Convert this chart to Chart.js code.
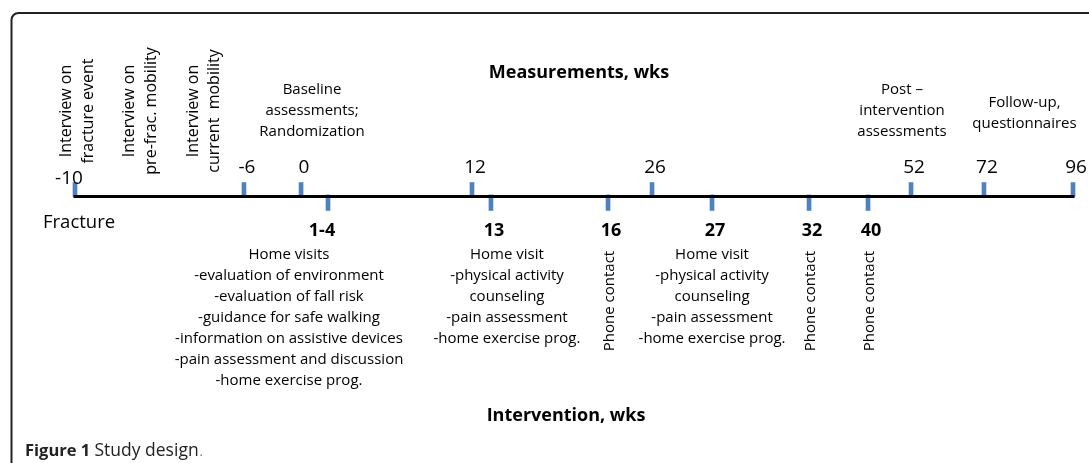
<!DOCTYPE html>
<html>
<head>
<meta charset="utf-8">
<script src="https://cdn.jsdelivr.net/npm/chart.js@4.4.1/dist/chart.umd.min.js"></script>
<style>
  html, body { margin: 0; padding: 0; background: #fff; }
  #wrap { width: 1089px; height: 463px; position: relative; }
</style>
</head>
<body>
<div id="wrap"><canvas id="timeline"></canvas></div>
<script>
// --- DATA ---
const measureWeeks = [-10, -6, 0, 12, 26, 52, 72, 96];
const measureLabels = ['-10', '-6', '0', '12', '26', '52', '72', '96'];
const interventionWeeks = [2.5, 13, 16, 27, 32, 40];
const interventionLabels = ['1-4', '13', '16', '27', '32', '40'];

const preFractureNotes = [
    ['Interview on', 'fracture event'],
    ['Interview on', 'pre-frac. mobility'],
    ['Interview on', 'current  mobility']
];
const baselineNote = ['Baseline', 'assessments;', 'Randomization'];
const postNote = ['Post \u2013', 'intervention', 'assessments'];
const followUpNote = ['Follow-up,', 'questionnaires'];

const homeVisitWeeks = [2.5, 13, 27];
const homeVisitNotes = [
    ['Home visits', '-evaluation of environment', '-evaluation of fall risk', '-guidance for safe walking',
     '-information on assistive devices', '-pain assessment and discussion', '-home exercise prog.'],
    ['Home visit', '-physical activity', 'counseling', '-pain assessment', '-home exercise prog.'],
    ['Home visit', '-physical activity', 'counseling', '-pain assessment', '-home exercise prog.']
];
const phoneWeeks = [16, 32, 40];
const phoneNote = 'Phone contact';

// --- LAYOUT ---
// the figure is schematic, not to scale: week -> share of axis length
const axisStops = [
    [-10, 0], [-6, 0.1693], [0, 0.2265], [2.5, 0.2535], [12, 0.3978], [13, 0.4168],
    [16, 0.5341], [26, 0.5782], [27, 0.6383], [32, 0.7355], [40, 0.7946],
    [52, 0.8377], [72, 0.9108], [96, 1]
];
const FONT = '"Open Sans", sans-serif';
const TICK_BLUE = '#4F81BD';

class TimelineScale extends Chart.LinearScale {
    getPixelForValue(value) {
        const s = axisStops;
        let f = s[0][1];
        if (value >= s[s.length - 1][0]) {
            f = s[s.length - 1][1];
        } else {
            for (let i = 0; i < s.length - 1; i++) {
                if (value >= s[i][0] && value <= s[i + 1][0]) {
                    const t = (value - s[i][0]) / (s[i + 1][0] - s[i][0]);
                    f = s[i][1] + t * (s[i + 1][1] - s[i][1]);
                    break;
                }
            }
        }
        return this.left + f * this.width;
    }
    getValueForPixel(pixel) {
        const s = axisStops;
        const f = (pixel - this.left) / this.width;
        for (let i = 0; i < s.length - 1; i++) {
            if (f >= s[i][1] && f <= s[i + 1][1]) {
                const t = (f - s[i][1]) / (s[i + 1][1] - s[i][1]);
                return s[i][0] + t * (s[i + 1][0] - s[i][0]);
            }
        }
        return f < 0 ? s[0][0] : s[s.length - 1][0];
    }
}
TimelineScale.id = 'timeline';
TimelineScale.defaults = {};
Chart.register(TimelineScale);

function put(ctx, str, x, y, size, weight, align) {
    ctx.font = `${weight || 'normal'} ${size}px ${FONT}`;
    ctx.textAlign = align || 'center';
    ctx.textBaseline = 'alphabetic';
    ctx.fillText(str, x, y);
}

function putUp(ctx, str, cx, cy, size) {
    ctx.save();
    ctx.translate(cx, cy);
    ctx.rotate(-Math.PI / 2);
    ctx.font = `normal ${size}px ${FONT}`;
    ctx.textAlign = 'center';
    ctx.textBaseline = 'alphabetic';
    ctx.fillText(str, 0, size * 0.36);
    ctx.restore();
}

const textPlugin = {
    id: 'timelineText',
    afterDraw(chart) {
        const ctx = chart.ctx;
        const px = w => chart.scales.x.getPixelForValue(w);
        ctx.save();

        // frame
        ctx.strokeStyle = '#222';
        ctx.lineWidth = 2;
        ctx.beginPath();
        ctx.moveTo(11.5, 470);
        ctx.lineTo(11.5, 20);
        ctx.arcTo(11.5, 13, 18.5, 13, 7);
        ctx.lineTo(1095, 13);
        ctx.stroke();

        ctx.fillStyle = '#000';

        // titles
        put(ctx, 'Measurements, wks', 579, 78, 18, 'bold');
        put(ctx, 'Intervention, wks', 566, 421, 18, 'bold');

        // measurement week labels
        measureLabels.forEach((lab, i) => {
            if (i === 0) put(ctx, lab, px(measureWeeks[i]) - 6, 183.5, 19);
            else put(ctx, lab, px(measureWeeks[i]) + 3, 173, 19);
        });

        // intervention week labels
        interventionLabels.forEach((lab, i) => {
            const dx = i === 0 ? -6 : 3;
            put(ctx, lab, px(interventionWeeks[i]) + dx, 236, 18, 'bold');
        });

        put(ctx, 'Fracture', 43, 228, 18.5, 'normal', 'left');

        // pre-fracture interviews, rotated
        const x0 = px(-10);
        [1, 64, 127.5].forEach((dx, g) => {
            putUp(ctx, preFractureNotes[g][0], x0 + dx - 10.75, 111, 16);
            putUp(ctx, preFractureNotes[g][1], x0 + dx + 10.75, 111, 16);
        });

        baselineNote.forEach((t, i) => put(ctx, t, px(0) + 11, 94 + i * 21, 15));
        postNote.forEach((t, i) => put(ctx, t, px(52) - 9, 94 + i * 21, 15));
        const fx = (px(72) + px(96)) / 2 - 4;
        followUpNote.forEach((t, i) => put(ctx, t, fx, 107 + i * 21, 15));

        // intervention notes
        const visitDx = [-39, 16, 0];
        homeVisitNotes.forEach((lines, k) => {
            const cx = px(homeVisitWeeks[k]) + visitDx[k];
            lines.forEach((t, i) => put(ctx, t, cx, 259 + i * 21, 15));
        });
        phoneWeeks.forEach(w => putUp(ctx, phoneNote, px(w) + 0.5, 301, 15));

        // caption
        ctx.font = `bold 16.5px ${FONT}`;
        ctx.textAlign = 'left';
        ctx.fillStyle = '#222';
        ctx.fillText('Figure 1', 25, 456);
        let cx = 25 + ctx.measureText('Figure 1 ').width;
        ctx.font = `normal 17.5px ${FONT}`;
        ctx.fillText('Study design', cx, 456);
        cx += ctx.measureText('Study design').width + 1;
        ctx.fillStyle = '#777';
        ctx.font = `normal 13px ${FONT}`;
        ctx.fillText('.', cx, 456);

        ctx.restore();
    }
};

new Chart(document.getElementById('timeline'), {
    data: {
        datasets: [
            {
                type: 'line',
                label: 'axis',
                data: [{ x: measureWeeks[0], y: 0 }, { x: measureWeeks[measureWeeks.length - 1], y: 0 }],
                borderColor: '#000',
                borderWidth: 3,
                borderCapStyle: 'square',
                pointRadius: 0,
                order: 0,
                clip: false
            },
            {
                type: 'bar',
                label: 'Measurements',
                data: measureWeeks.map(w => ({ x: w, y: [0, 0.9] })),
                backgroundColor: TICK_BLUE,
                barThickness: 4,
                grouped: false,
                order: 1,
                clip: false
            },
            {
                type: 'bar',
                label: 'Intervention',
                data: interventionWeeks.map(w => ({ x: w, y: [-0.9, 0.1] })),
                backgroundColor: TICK_BLUE,
                barThickness: 4,
                grouped: false,
                order: 1,
                clip: false
            }
        ]
    },
    options: {
        responsive: true,
        maintainAspectRatio: false,
        animation: false,
        events: [],
        layout: { padding: { left: 75, right: 16, top: 181, bottom: 251 } },
        plugins: { legend: { display: false }, tooltip: { enabled: false } },
        scales: {
            x: { type: 'timeline', min: -10, max: 96, offset: false, display: false },
            y: { type: 'linear', min: -1, max: 1, display: false }
        }
    },
    plugins: [textPlugin]
});
</script>
</body>
</html>
